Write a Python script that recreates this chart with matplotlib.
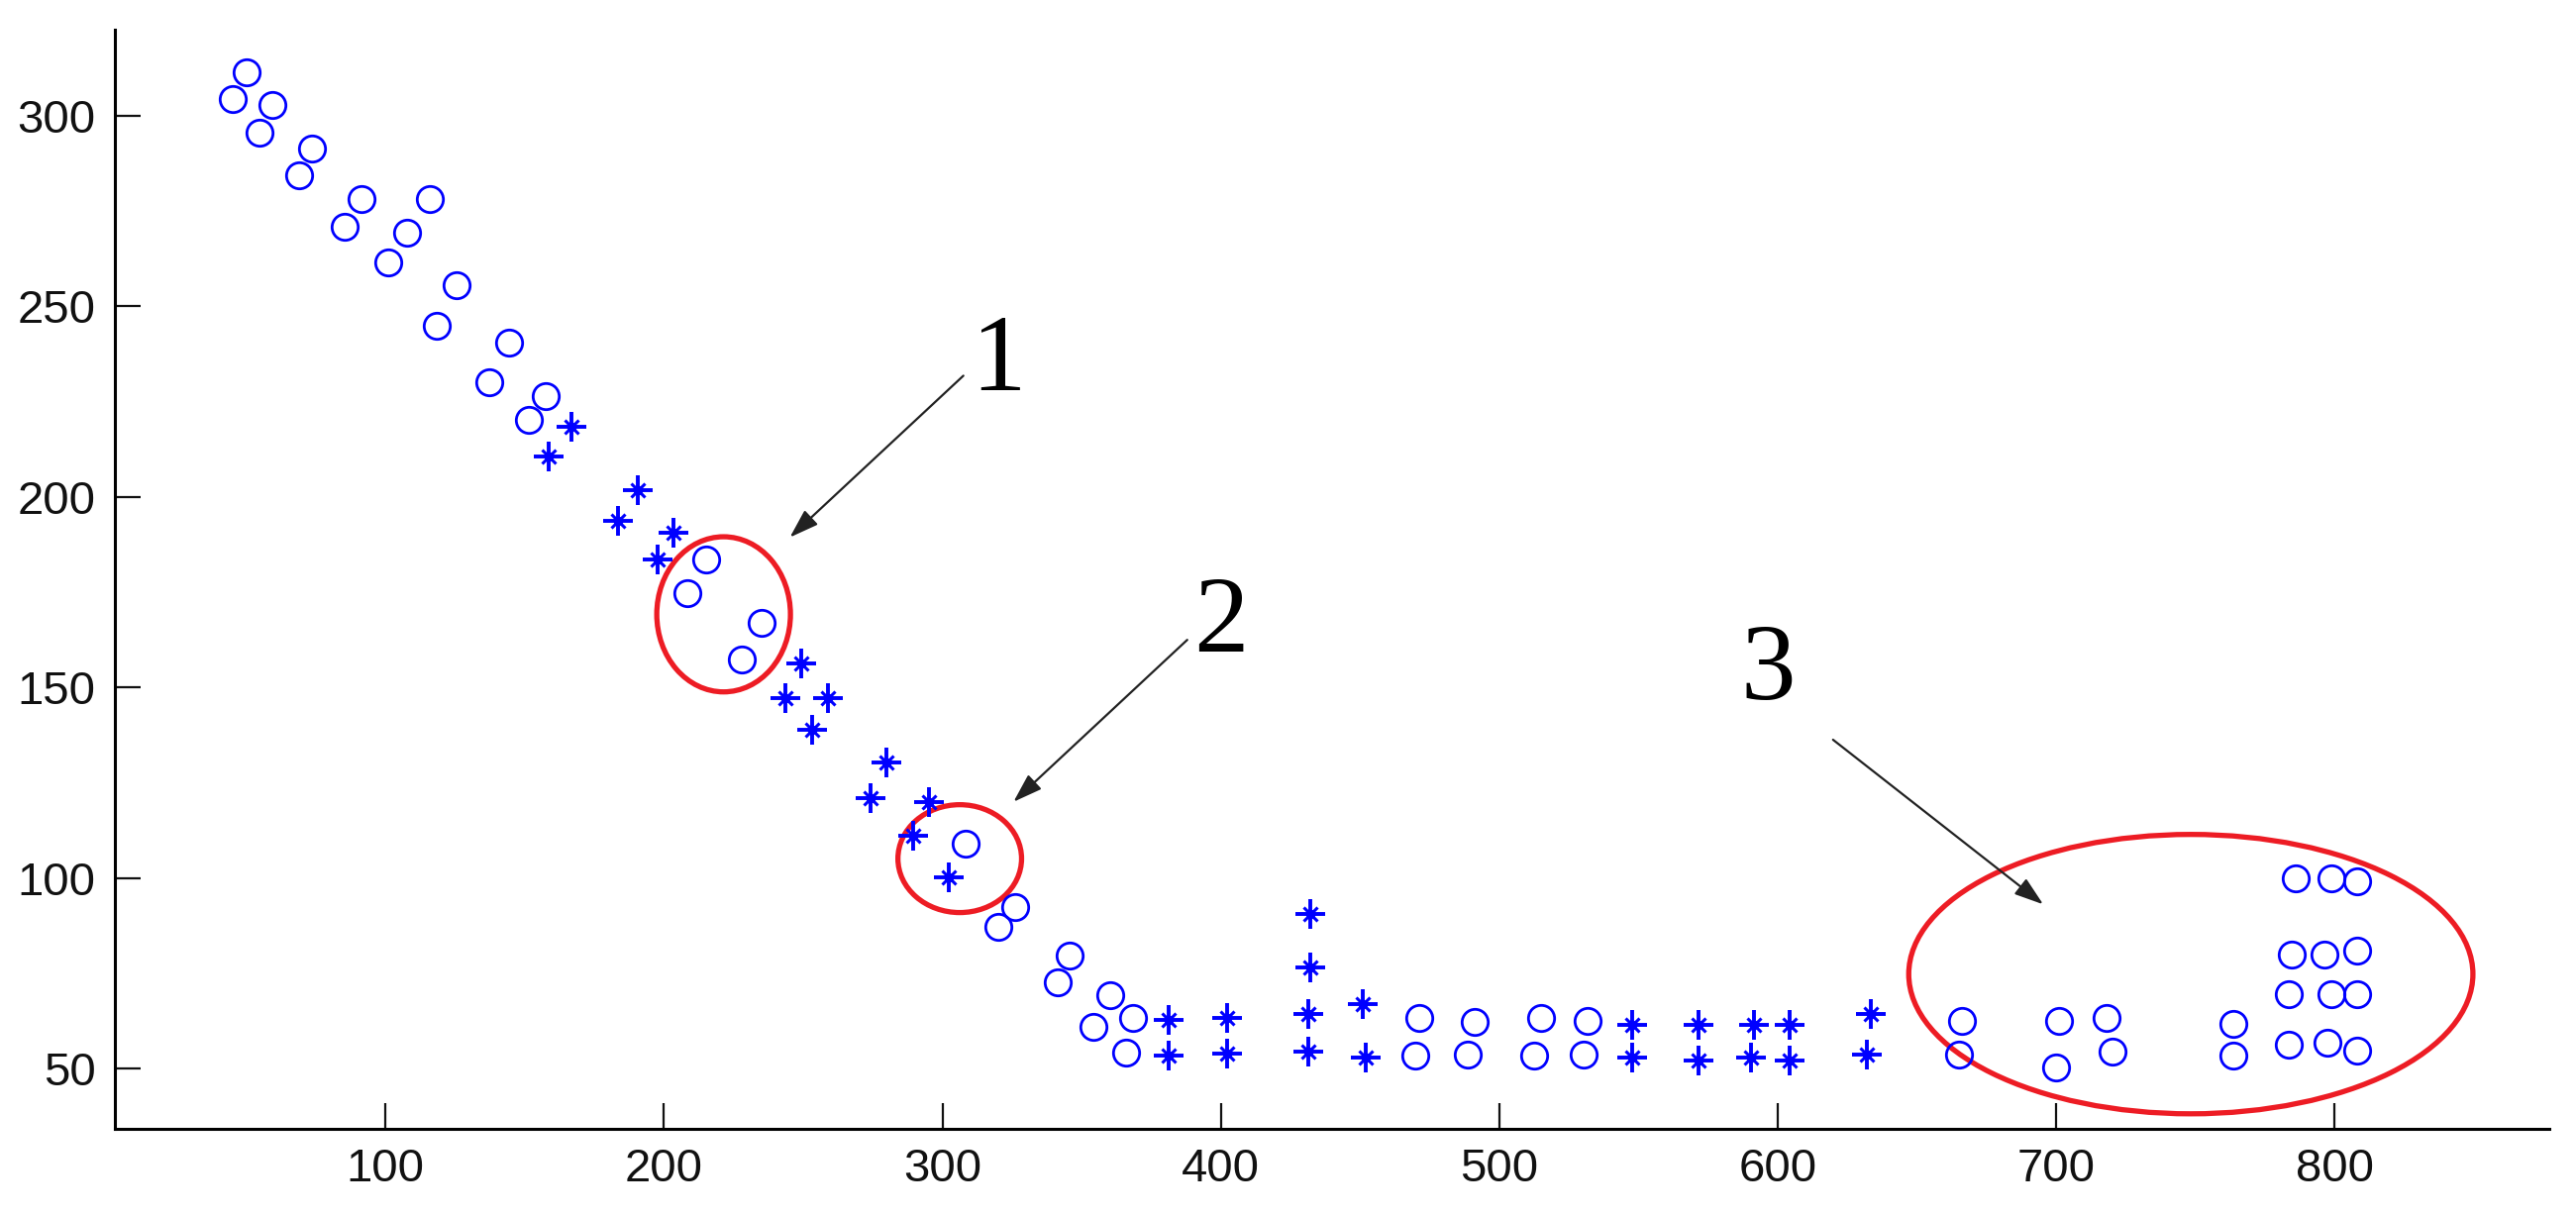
import matplotlib
matplotlib.use("Agg")
import matplotlib.pyplot as plt
from matplotlib.patches import Ellipse

# points drawn with open circles
circle_x = [50.0, 45.2, 59.5, 54.7, 73.5, 69.0, 91.3, 85.4, 116.0, 107.6, 100.8, 125.5, 118.4,
            144.4, 137.3, 157.6, 151.6,
            215.3, 208.2, 235.2, 228.0,
            308.3, 326.0, 320.2, 345.8, 341.4, 360.1, 368.5, 354.3, 366.1,
            471.1, 469.7, 491.2, 488.8, 514.8, 512.4, 531.6, 530.1,
            666.0, 665.0, 701.0, 700.0, 718.0, 720.0, 763.5, 763.5,
            786.0, 798.6, 808.0, 784.6, 796.4, 808.0, 783.4, 798.6, 808.0, 783.4, 797.3, 808.0]
circle_y = [311.4, 304.3, 302.8, 295.5, 291.5, 284.3, 278.1, 271.0, 278.1, 269.4, 261.5, 255.5, 244.9,
            240.4, 230.0, 226.5, 220.3,
            183.7, 174.7, 167.0, 157.3,
            109.1, 92.4, 87.2, 79.7, 72.7, 69.3, 63.4, 60.9, 54.2,
            63.4, 53.3, 62.3, 53.7, 63.4, 53.3, 62.5, 53.7,
            62.4, 53.7, 62.4, 50.3, 63.3, 54.5, 61.7, 53.4,
            100.0, 100.0, 99.2, 80.0, 80.0, 80.9, 69.5, 69.5, 69.5, 56.4, 56.9, 54.7]

# points drawn with asterisks
star_x = [166.8, 158.6, 190.5, 183.3, 203.3, 197.6,
          249.4, 243.6, 259.0, 253.1, 280.0, 274.2, 295.1, 289.6, 302.2,
          381.2, 381.2, 402.1, 402.1,
          432.2, 432.2, 431.4, 431.4, 451.1, 452.0,
          547.8, 547.8, 571.4, 571.4, 591.4, 590.5, 604.4, 604.4, 633.3, 631.8]
star_y = [218.5, 210.6, 201.8, 193.8, 190.5, 183.5,
          156.2, 147.2, 147.2, 139.0, 130.3, 120.9, 120.0, 111.1, 100.3,
          62.7, 53.3, 63.4, 54.0,
          90.5, 76.5, 64.3, 54.5, 66.9, 52.8,
          61.5, 52.8, 61.5, 52.0, 61.5, 52.8, 61.5, 52.0, 64.3, 53.7]

# marked regions: label, ellipse centre / size, label position, arrow start / end
region_labels = ["1", "2", "3"]
region_centres = [(221.4, 169.2), (306.2, 105.1), (748.3, 74.8)]
region_sizes = [(48.0, 40.7), (44.4, 28.3), (202.6, 73.3)]
label_pos = [(320.0, 235.0), (400.0, 166.5), (596.5, 154.0)]
arrow_from = [(307.5, 231.8), (387.9, 162.5), (619.8, 136.3)]
arrow_to = [(245.2, 189.4), (325.5, 120.0), (695.3, 93.1)]

x_ticks = [100, 200, 300, 400, 500, 600, 700, 800]
y_ticks = [50, 100, 150, 200, 250, 300]

fig = plt.figure(figsize=(26.01, 12.27), dpi=100)
ax = fig.add_axes([0.0446, 0.0709, 0.9450, 0.9047])

ax.plot(circle_x, circle_y, linestyle="none", marker="o", markersize=19,
        markerfacecolor="none", markeredgecolor="#0000ff", markeredgewidth=2.0)
# asterisk: a plus with a small cross and a dot in the middle
ax.plot(star_x, star_y, linestyle="none", marker="+", markersize=21,
        color="#0000ff", markeredgewidth=2.8)
ax.plot(star_x, star_y, linestyle="none", marker="x", markersize=10,
        color="#0000ff", markeredgewidth=2.2)
ax.plot(star_x, star_y, linestyle="none", marker="o", markersize=7,
        color="#0000ff", markeredgewidth=0)

for (cx, cy), (w, h) in zip(region_centres, region_sizes):
    ax.add_patch(Ellipse((cx, cy), w, h, fill=False, edgecolor="#ed1c24", linewidth=3.8))

for lab, lp, a0, a1 in zip(region_labels, label_pos, arrow_from, arrow_to):
    ax.annotate("", xy=a1, xytext=a0,
                arrowprops=dict(arrowstyle="-|>,head_length=0.6,head_width=0.2",
                                color="#222222", lw=1.6, mutation_scale=30,
                                shrinkA=0, shrinkB=0))
    ax.text(lp[0], lp[1], lab, fontsize=80, family=["Liberation Serif", "DejaVu Serif"],
            ha="center", va="center", color="black")

ax.set_xlim(2.8, 877)
ax.set_ylim(34.2, 322.6)
ax.set_xticks(x_ticks)
ax.set_yticks(y_ticks)
ax.spines["top"].set_visible(False)
ax.spines["right"].set_visible(False)
ax.spines["left"].set_linewidth(2.2)
ax.spines["bottom"].set_linewidth(2.2)
ax.tick_params(direction="in", length=19, width=1.6, pad=14, labelsize=34, colors="#111111")
for t in ax.get_xticklabels() + ax.get_yticklabels():
    t.set_family("Liberation Sans")

fig.savefig("out.png", dpi=100)
